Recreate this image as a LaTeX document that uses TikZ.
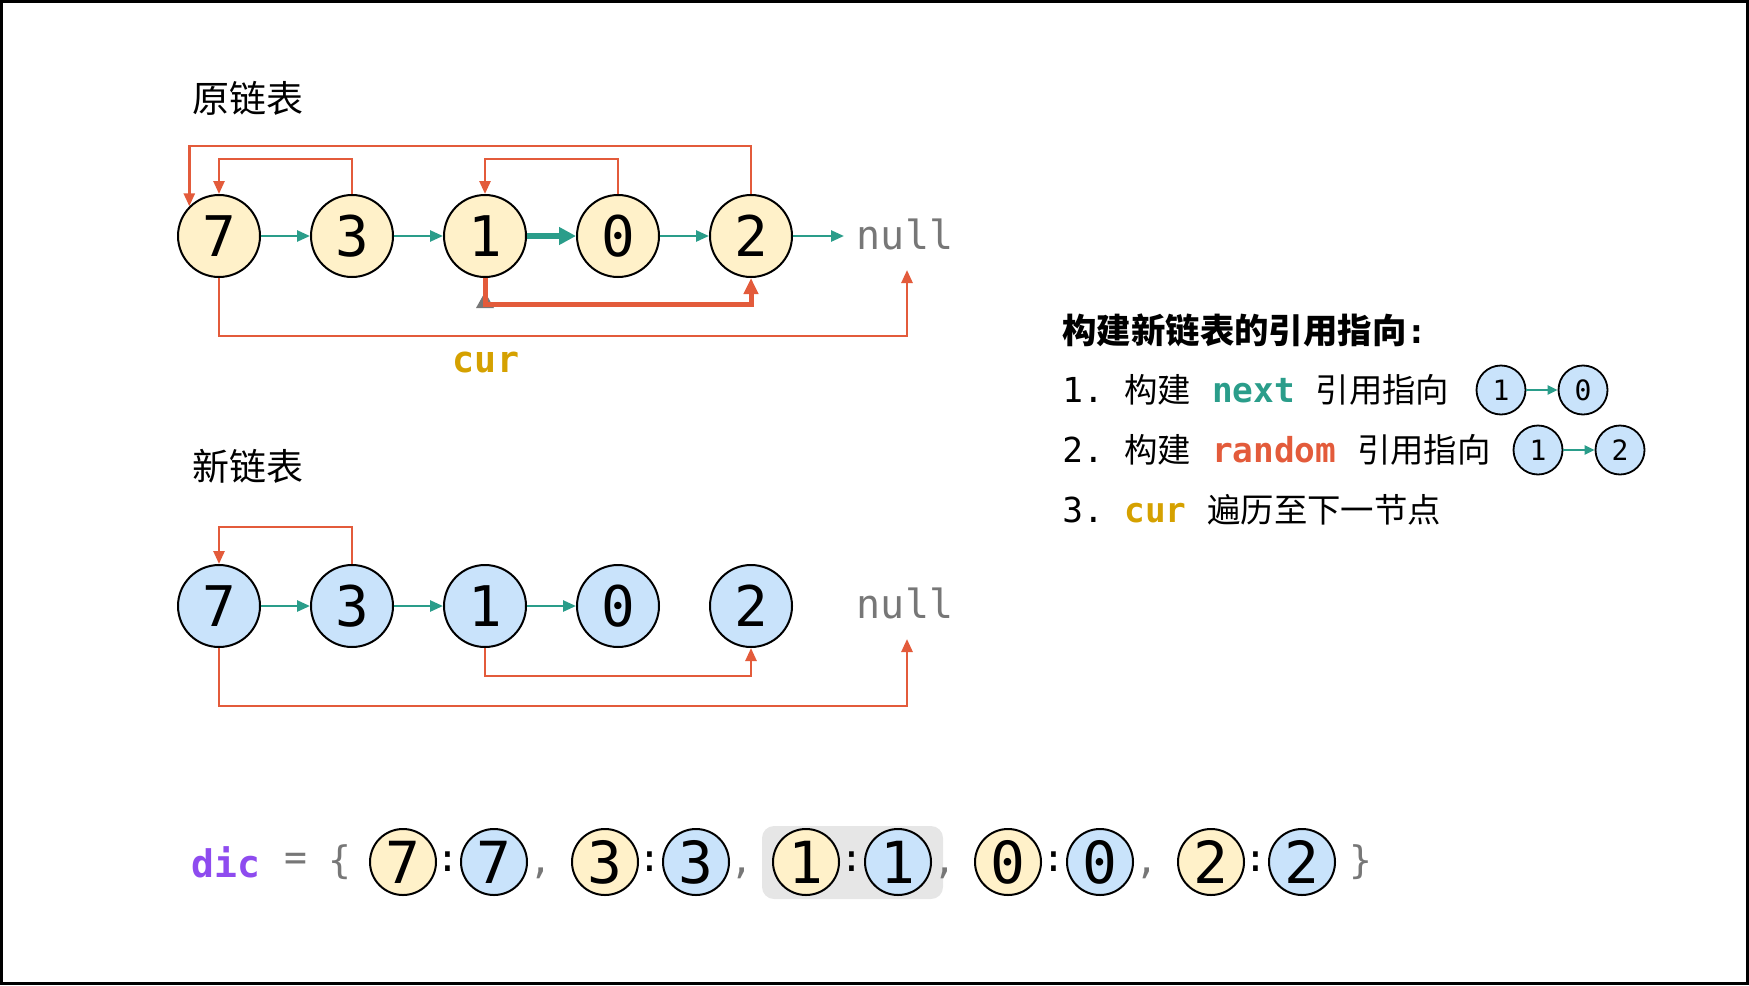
\documentclass[tikz,border=0pt]{standalone}
\usepackage{fontspec}
\setmainfont{DejaVu Sans Mono}
\newfontfamily\cjk{Noto Sans CJK SC}
\newfontfamily\mono{DejaVu Sans Mono}
\usetikzlibrary{arrows.meta}
\definecolor{yfill}{HTML}{FFF1C9}
\definecolor{bfill}{HTML}{C9E3FB}
\definecolor{tealc}{HTML}{2A9D8A}
\definecolor{redc}{HTML}{E35B3B}
\definecolor{goldc}{HTML}{D5A100}
\definecolor{purplec}{HTML}{8E4BEF}
\definecolor{grayc}{HTML}{777777}
\definecolor{hlc}{HTML}{E6E6E6}
\begin{document}
\begin{tikzpicture}[x=0.5pt,y=-0.5pt,
  lnode/.style={circle,draw=black,line width=1pt,inner sep=0pt,minimum size=41pt,font=\mono\fontsize{28}{28}\selectfont},
  ynode/.style={lnode,fill=yfill},
  bnode/.style={lnode,fill=bfill},
  snode/.style={circle,draw=black,line width=0.9pt,inner sep=0pt,minimum size=24.5pt,fill=bfill,font=\mono\fontsize{14}{14}\selectfont},
  dyn/.style={circle,draw=black,line width=1pt,inner sep=0pt,minimum size=33pt,fill=yfill,font=\mono\fontsize{29}{29}\selectfont},
  dbn/.style={dyn,fill=bfill},
  nxt/.style={draw=tealc,line width=1.3pt,-{Triangle[length=6.5pt,width=5.5pt]}},
  nxtsmall/.style={draw=tealc,line width=1.1pt,-{Triangle[length=5pt,width=4.5pt]}},
  nxtbold/.style={draw=tealc,line width=3pt,-{Triangle[length=8.5pt,width=8.5pt]}},
  rnd/.style={draw=redc,line width=1.3pt,-{Triangle[length=6.5pt,width=5.5pt]}},
  rndbold/.style={draw=redc,line width=2.5pt,-{Triangle[length=8pt,width=7pt]}},
  nulltxt/.style={text=grayc,font=\mono\fontsize{20}{20}\selectfont,inner sep=0pt},
  titletxt/.style={font=\cjk\fontsize{18.5}{20}\selectfont,anchor=west,inner sep=0pt},
  itemtxt/.style={font=\cjk\fontsize{16.7}{18}\selectfont,anchor=west,inner sep=0pt},
  dictxt/.style={font=\mono\fontsize{19}{19}\selectfont,inner sep=0pt},
]
\useasboundingbox (0,0) rectangle (1749,985);
\draw[line width=1.5pt] (1.5,1.5) rectangle (1747.5,983.5);

% titles
\node[titletxt] (t1) at (192,98) {原链表};
\node[titletxt] (t2) at (192,466) {新链表};

% original list
\foreach \n/\x in {7/219,3/352,1/485,0/618,2/751}
  \node[ynode] (o\n) at (\x,236) {\n};
\node[nulltxt] (onull) at (905,234) {null};
\coordinate (onullin) at (907,270);
\coordinate (onullend) at (844,236);
\draw[nxt] (o7) -- (o3);
\draw[nxt] (o3) -- (o1);
\draw[nxtbold] (o1) -- (o0);
\draw[nxt] (o0) -- (o2);
\draw[nxt] (o2.east) -- (onullend);
\fill[grayc] (476,308) -- (494,308) -- (485,292) -- cycle;
\draw[rnd] (o2.north) -- ++(0,-48) -| (o7.north west);
\draw[rnd] (o3.north) -- ++(0,-35) -| (o7.north);
\draw[rnd] (o0.north) -- ++(0,-35) -| (o1.north);
\draw[rnd] (o7.south) -- ++(0,58) -| (onullin);
\draw[rndbold] (o1.south) -- ++(0,26) -| (o2.south);
\node[font=\mono\bfseries\fontsize{18.3}{18}\selectfont,text=goldc,inner sep=0pt] (cur) at (486,362) {cur};

% new list
\foreach \n/\x in {7/219,3/352,1/485,0/618,2/751}
  \node[bnode] (n\n) at (\x,606) {\n};
\node[nulltxt] (nnull) at (905,603) {null};
\coordinate (nnullin) at (907,639);
\draw[nxt] (n7) -- (n3);
\draw[nxt] (n3) -- (n1);
\draw[nxt] (n1) -- (n0);
\draw[rnd] (n3.north) -- ++(0,-37) -| (n7.north);
\draw[rnd] (n1.south) -- ++(0,28) -| (n2.south);
\draw[rnd] (n7.south) -- ++(0,58) -| (nnullin);

% right-hand explanation
\node[itemtxt,font=\cjk\bfseries\fontsize{17.2}{19}\selectfont] (head) at (1062,330) {构建新链表的引用指向{\mono :}};
\node[itemtxt] (l1) at (1062,390) {{\mono\fontsize{17.2}{18}\selectfont 1.\ }构建{\mono\fontsize{17.2}{18}\selectfont\ \textbf{\textcolor{tealc}{next}}\ }引用指向};
\node[itemtxt] (l2) at (1062,450) {{\mono\fontsize{17.2}{18}\selectfont 2.\ }构建{\mono\fontsize{17.2}{18}\selectfont\ \textbf{\textcolor{redc}{random}}\ }引用指向};
\node[itemtxt] (l3) at (1062,510) {{\mono\fontsize{17.2}{18}\selectfont 3.\ \textbf{\textcolor{goldc}{cur}}\ }遍历至下一节点};
\node[snode] (s1a) at (1501,390) {1};
\node[snode] (s1b) at (1583,390) {0};
\draw[nxtsmall] (s1a) -- (s1b);
\node[snode] (s2a) at (1538,450) {1};
\node[snode] (s2b) at (1620,450) {2};
\draw[nxtsmall] (s2a) -- (s2b);

% dictionary
\fill[hlc, rounded corners=6pt] (762,826) rectangle (943,899);
\node[dictxt,font=\mono\bfseries\fontsize{19}{19}\selectfont,text=purplec] (dic) at (226,862) {dic};
\node[dictxt,text=grayc] (eq) at (296,862) {=};
\node[dictxt,text=grayc] (lb) at (340,862) {\{};
\foreach \d/\xa/\xb/\xc in {7/403/494/448,3/605/696/650,1/806/898/852,0/1008/1100/1054,2/1211/1302/1256}{
  \node[dyn] (dy\d) at (\xa,862) {\d};
  \node[dbn] (db\d) at (\xb,862) {\d};
  \node[dictxt] (col\d) at (\xc,862) {:};
}
\foreach \i/\x in {1/541,2/742,3/945,4/1147}
  \node[dictxt,text=grayc] (cm\i) at (\x,873) {,};
\node[dictxt,text=grayc] (rb) at (1361,862) {\}};
\end{tikzpicture}
\end{document}
